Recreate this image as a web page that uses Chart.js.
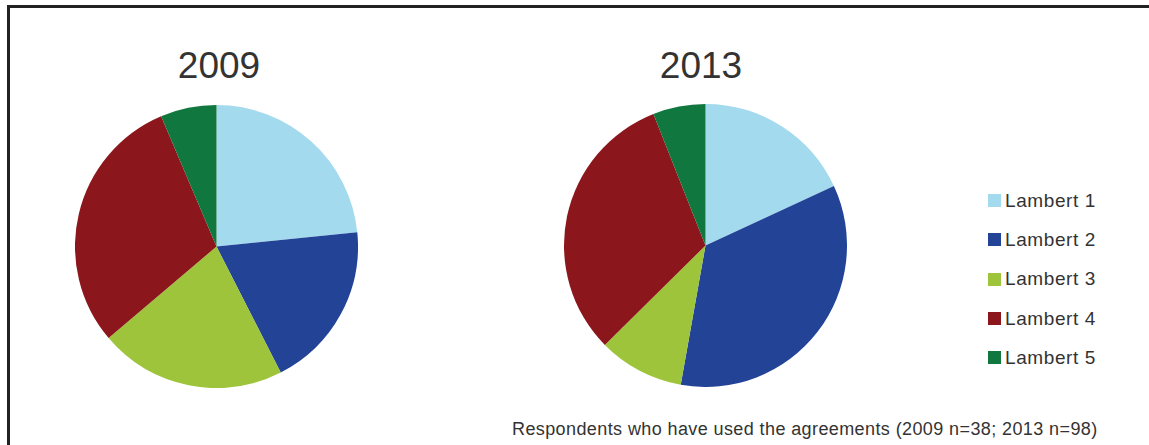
<!DOCTYPE html>
<html>
<head>
<meta charset="utf-8">
<script src="https://cdn.jsdelivr.net/npm/chart.js"></script>
<style>
  html, body { margin: 0; padding: 0; background: #fff; }
  body { width: 1149px; height: 445px; position: relative; overflow: hidden;
         font-family: "Liberation Sans", Arial, sans-serif; color: #333; }
  .frame { position: absolute; left: 7px; top: 5px; right: -10px; bottom: -10px;
           border-top: 3px solid #222; border-left: 3px solid #222; }
  .pie { position: absolute; width: 283px; height: 283px; }
  .year { position: absolute; font-size: 37px; line-height: 1; transform: translateX(-50%); }
  .legend { position: absolute; left: 988px; top: 181px; }
  .legend .item { height: 39.3px; display: flex; align-items: center; font-size: 19px; letter-spacing: 0.6px; }
  .legend .box { width: 13px; height: 13px; margin-right: 4px; }
  .note { position: absolute; left: 512px; top: 420px; font-size: 18px; line-height: 1;
          letter-spacing: 0.4px; white-space: nowrap; }
</style>
</head>
<body>
<div class="frame"></div>
<div class="year" id="t1" style="left:219px; top:47px;"></div>
<div class="year" id="t2" style="left:701px; top:47px;"></div>
<canvas class="pie" id="pie2009" width="283" height="283" style="left:75px; top:105px;"></canvas>
<canvas class="pie" id="pie2013" width="283" height="283" style="left:564px; top:104px;"></canvas>
<div class="legend" id="legend"></div>
<div class="note">Respondents who have used the agreements (2009 n=38; 2013 n=98)</div>
<script>
const categories = ["Lambert 1", "Lambert 2", "Lambert 3", "Lambert 4", "Lambert 5"];
const years = ["2009", "2013"];
// share of respondents per agreement type, in percent
const values2009 = [23.4, 19.1, 21.3, 29.8, 6.4];
const values2013 = [18.1, 34.7, 9.8, 31.4, 6.0];
const colors = ["#A3DAEE", "#234397", "#9DC43B", "#8B161C", "#10773F"];

function drawPie(id, data) {
  new Chart(document.getElementById(id), {
    type: "pie",
    data: {
      labels: categories,
      datasets: [{ data: data, backgroundColor: colors, borderWidth: 0 }]
    },
    options: {
      responsive: false,
      animation: false,
      layout: { padding: 0 },
      plugins: { legend: { display: false }, tooltip: { enabled: false } }
    }
  });
}

drawPie("pie2009", values2009);
drawPie("pie2013", values2013);

document.getElementById("t1").textContent = years[0];
document.getElementById("t2").textContent = years[1];

// legend built from the same categories/colours
const legend = document.getElementById("legend");
categories.forEach((name, i) => {
  const row = document.createElement("div");
  row.className = "item";
  row.innerHTML = `<span class="box" style="background:${colors[i]}"></span><span>${name}</span>`;
  legend.appendChild(row);
});
</script>
</body>
</html>
